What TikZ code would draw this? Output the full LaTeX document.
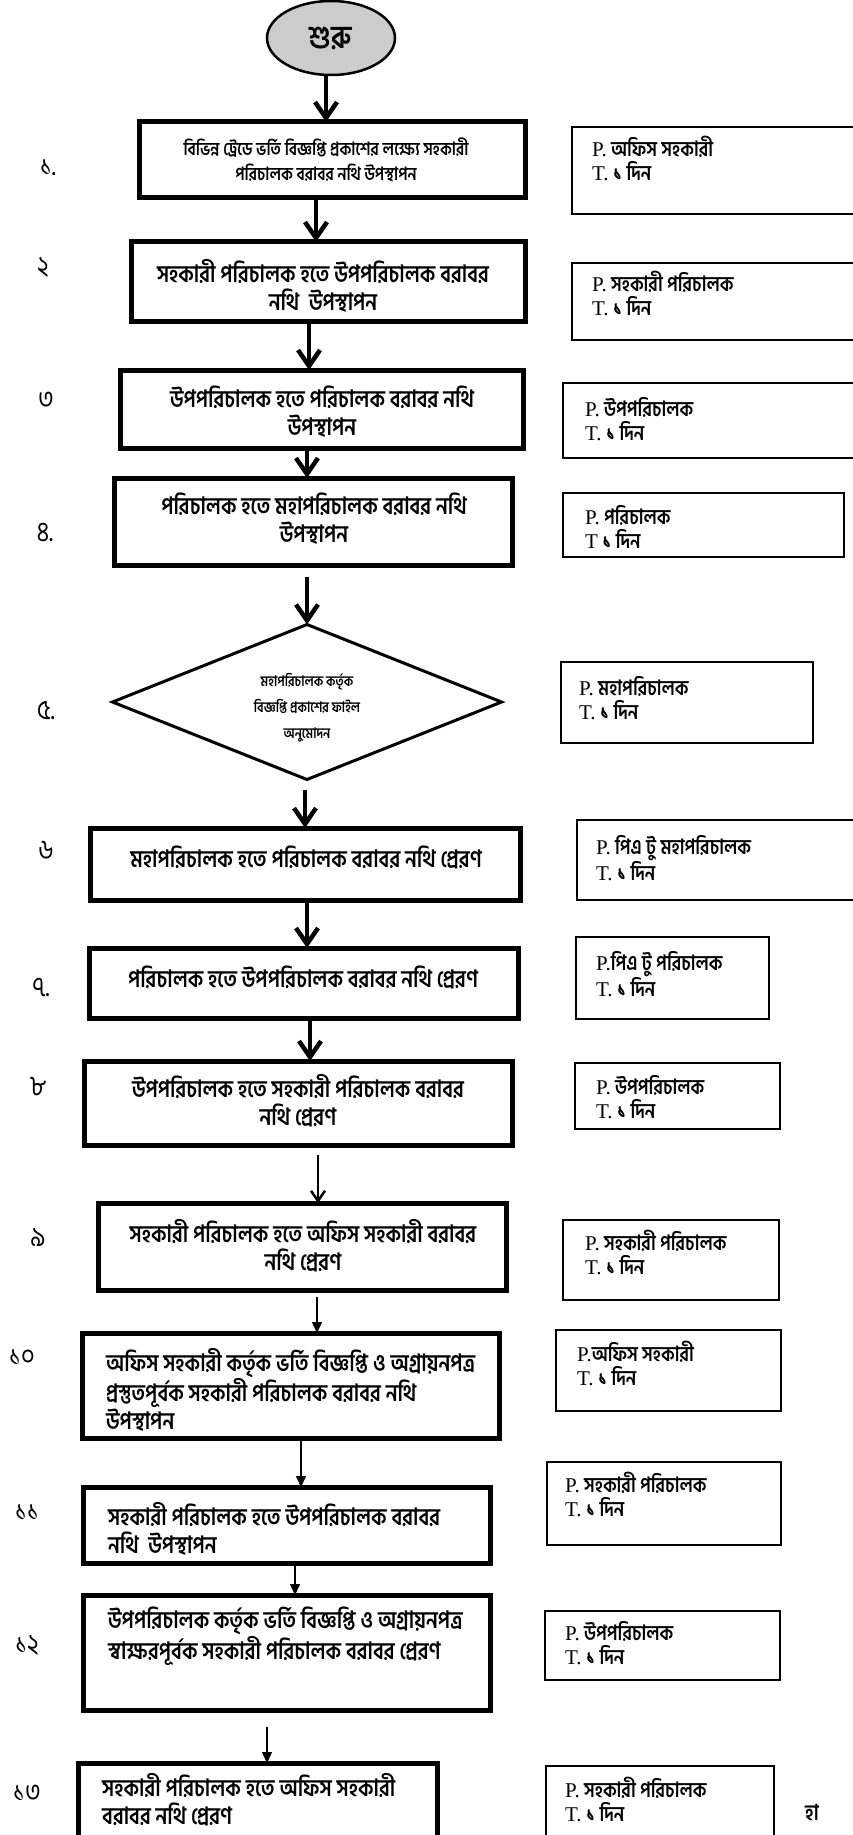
\documentclass[tikz,border=0pt]{standalone}
\usepackage{fontspec}
\usetikzlibrary{arrows.meta,shapes.geometric}
\newfontfamily\bn[Script=Bengali,FakeStretch=0.85]{Hind Siliguri}
\newfontfamily\ser{Liberation Serif}
\newcommand\pl[1]{{\mdseries\ser\fontsize{21}{24}\selectfont #1}}
% box macro: name, x1, x2, y1, y2, style
\newcommand\fbx[6]{\node[#6, minimum width={#3-#2}, minimum height={#5-#4}] (#1) at ({(#2+#3)/2},{(#4+#5)/2}) {};}
\tikzset{
 flowbox/.style={draw, line width=5pt, inner sep=0pt, outer sep=0pt},
 pbox/.style={draw, line width=1.6pt, inner sep=0pt, outer sep=0pt},
 btxt/.style={font=\bn\bfseries\fontsize{23.8}{28}\selectfont, align=center, inner sep=0pt},
 ltxt/.style={font=\bn\bfseries\fontsize{23.8}{28}\selectfont, align=left, anchor=west, inner sep=0pt},
 ptxt/.style={font=\bn\bfseries\fontsize{21}{24}\selectfont, align=left, anchor=west, inner sep=0pt},
 num/.style={font=\bn\fontsize{28}{28}\selectfont, inner sep=0pt},
 thickarr/.style={line width=3.2pt, -{Straight Barb[length=16pt,width=22pt,line width=4.5pt]}},
 medarr/.style={line width=2pt, -{Straight Barb[length=10pt,width=14pt,line width=2.5pt]}},
 thinarr/.style={line width=1.4pt, -{Triangle[length=11pt,width=10pt]}},
}
\begin{document}
\begin{tikzpicture}[x=1pt,y=-1pt]
\useasboundingbox (0,0) rectangle (853,1835);
\clip (0,0) rectangle (853,1835);
% start
\node[draw, ellipse, fill=gray!40, line width=2.5pt, minimum width=128pt, minimum height=74pt, inner sep=0pt, outer sep=0pt] (start) at (331,38) {\bn\bfseries\fontsize{32}{32}\selectfont শুরু};
% main boxes
\fbx{b1}{139}{525}{122}{198}{flowbox}
\fbx{b2}{131}{525}{242}{321}{flowbox}
\fbx{b3}{120}{523}{370}{448}{flowbox}
\fbx{b4}{114}{512}{478}{565}{flowbox}
\node[draw, diamond, line width=3pt, minimum width=389pt, minimum height=155pt, inner sep=0pt, outer sep=0pt] (d5) at (307,702) {};
\fbx{b6}{90}{520}{828}{900}{flowbox}
\fbx{b7}{89}{518}{948}{1018}{flowbox}
\fbx{b8}{84}{512}{1061}{1145}{flowbox}
\fbx{b9}{98}{506}{1203}{1290}{flowbox}
\fbx{b10}{82}{499}{1333}{1438}{flowbox}
\fbx{b11}{83}{490}{1487}{1563}{flowbox}
\fbx{b12}{83}{490}{1595}{1710}{flowbox}
\fbx{b13}{78}{437}{1763}{1850}{flowbox}
% box texts
\node[btxt, font=\bn\bfseries\fontsize{18.2}{25}\selectfont] (t1) at (326,160) {বিভিন্ন ট্রেডে ভর্তি বিজ্ঞপ্তি প্রকাশের লক্ষ্যে সহকারী\\পরিচালক বরাবর নথি উপস্থাপন};
\node[btxt] (t2) at (323,286) {সহকারী পরিচালক হতে উপপরিচালক বরাবর\\নথি\ \ উপস্থাপন};
\node[btxt] (t3) at (322,412) {উপপরিচালক হতে পরিচালক বরাবর নথি\\উপস্থাপন};
\node[btxt] (t4) at (314,519) {পরিচালক হতে মহাপরিচালক বরাবর নথি\\উপস্থাপন};
\node[btxt, font=\bn\bfseries\fontsize{14.5}{26}\selectfont] (t5) at (307,708) {মহাপরিচালক কর্তৃক\\বিজ্ঞপ্তি প্রকাশের ফাইল\\অনুমোদন};
\node[btxt] (t6) at (306,857) {মহাপরিচালক হতে পরিচালক বরাবর নথি প্রেরণ};
\node[btxt] (t7) at (303,977) {পরিচালক হতে উপপরিচালক বরাবর নথি প্রেরণ};
\node[btxt] (t8) at (298,1101) {উপপরিচালক হতে সহকারী পরিচালক বরাবর\\নথি প্রেরণ};
\node[btxt] (t9) at (303,1246) {সহকারী পরিচালক হতে অফিস সহকারী বরাবর\\নথি প্রেরণ};
\node[ltxt] (t10) at (106,1390) {অফিস সহকারী কর্তৃক ভর্তি বিজ্ঞপ্তি ও অগ্রায়নপত্র\\প্রস্তুতপূর্বক সহকারী পরিচালক বরাবর নথি\\উপস্থাপন};
\node[ltxt] (t11) at (108,1529) {সহকারী পরিচালক হতে উপপরিচালক বরাবর\\নথি\ \ উপস্থাপন};
\node[ltxt] (t12) at (108,1636) {উপপরিচালক কর্তৃক ভর্তি বিজ্ঞপ্তি ও অগ্রায়নপত্র\\স্বাক্ষরপূর্বক সহকারী পরিচালক বরাবর প্রেরণ};
\node[ltxt] (t13) at (102,1800) {সহকারী পরিচালক হতে অফিস সহকারী\\বরাবর নথি প্রেরণ};
% step numbers
\node[num] (n1) at (48,168) {১.};
\node[num] (n2) at (43,268) {২};
\node[num] (n3) at (46,400) {৩};
\node[num] (n4) at (45,533) {৪.};
\node[num] (n5) at (46,710) {৫.};
\node[num] (n6) at (46,850) {৬};
\node[num] (n7) at (41,988) {৭.};
\node[num] (n8) at (38,1087) {৮};
\node[num] (n9) at (38,1237) {৯};
\node[num] (n10) at (22,1357) {১০};
\node[num] (n11) at (27,1512) {১১};
\node[num] (n12) at (27,1645) {১২};
\node[num] (n13) at (27,1793) {১৩};
% responsibility boxes
\fbx{p1}{572}{870}{127}{214}{pbox}
\fbx{p2}{572}{870}{263}{340}{pbox}
\fbx{p3}{563}{870}{383}{458}{pbox}
\fbx{p4}{563}{844}{493}{557}{pbox}
\fbx{p5}{561}{813}{662}{743}{pbox}
\fbx{p6}{577}{870}{820}{900}{pbox}
\fbx{p7}{576}{769}{937}{1019}{pbox}
\fbx{p8}{575}{780}{1063}{1129}{pbox}
\fbx{p9}{563}{779}{1220}{1300}{pbox}
\fbx{p10}{556}{781}{1330}{1411}{pbox}
\fbx{p11}{547}{781}{1462}{1545}{pbox}
\fbx{p12}{545}{780}{1611}{1680}{pbox}
\fbx{p13}{546}{774}{1766}{1850}{pbox}
\node[ptxt] (q1) at (592,158) {\pl{P.} অফিস সহকারী\\\pl{T.} ১ দিন};
\node[ptxt] (q2) at (592,293) {\pl{P.} সহকারী পরিচালক\\\pl{T.} ১ দিন};
\node[ptxt] (q3) at (585,419) {\pl{P.} উপপরিচালক\\\pl{T.} ১ দিন};
\node[ptxt] (q4) at (585,527) {\pl{P.} পরিচালক\\\pl{T} ১ দিন};
\node[ptxt] (q5) at (579,698) {\pl{P.} মহাপরিচালক\\\pl{T.} ১ দিন};
\node[ptxt] (q6) at (596,858) {\pl{P.} পিএ টু মহাপরিচালক\\\pl{T.} ১ দিন};
\node[ptxt] (q7) at (596,974) {\pl{P.}পিএ টু পরিচালক\\\pl{T.} ১ দিন};
\node[ptxt] (q8) at (596,1097) {\pl{P.} উপপরিচালক\\\pl{T.} ১ দিন};
\node[ptxt] (q9) at (585,1252) {\pl{P.} সহকারী পরিচালক\\\pl{T.} ১ দিন};
\node[ptxt] (q10) at (577,1363) {\pl{P.}অফিস সহকারী\\\pl{T.} ১ দিন};
\node[ptxt] (q11) at (565,1494) {\pl{P.} সহকারী পরিচালক\\\pl{T.} ১ দিন};
\node[ptxt] (q12) at (565,1643) {\pl{P.} উপপরিচালক\\\pl{T.} ১ দিন};
\node[ptxt] (q13) at (565,1799) {\pl{P.} সহকারী পরিচালক\\\pl{T.} ১ দিন};
\node[font=\bn\bfseries\fontsize{22}{22}\selectfont, anchor=west, inner sep=0pt] (sig) at (805,1812) {হা};
% connectors
\coordinate (x0) at (326,0);
\coordinate (x1) at (316,0);
\coordinate (x2) at (309,0);
\coordinate (x3) at (307,0);
\coordinate (a4s) at (307,577);
\coordinate (a5s) at (305,790);
\coordinate (x6) at (307,0);
\coordinate (x7) at (310,0);
\coordinate (a8s) at (318,1155);
\coordinate (a9s) at (317,1297);
\coordinate (x10) at (301,0);
\coordinate (x11) at (295,0);
\coordinate (a12s) at (267,1727);
\draw[thickarr] (start.south -| x0) -- (b1.north -| x0);
\draw[thickarr] (b1.south -| x1) -- (b2.north -| x1);
\draw[thickarr] (b2.south -| x2) -- (b3.north -| x2);
\draw[thickarr] (b3.south -| x3) -- (b4.north -| x3);
\draw[thickarr] (a4s) -- (d5.north);
\draw[thickarr] (a5s) -- (b6.north -| a5s);
\draw[thickarr] (b6.south -| x6) -- (b7.north -| x6);
\draw[thickarr] (b7.south -| x7) -- (b8.north -| x7);
\draw[medarr] (a8s) -- (b9.north -| a8s);
\draw[thinarr] (a9s) -- (b10.north -| a9s);
\draw[thinarr] (b10.south -| x10) -- (b11.north -| x10);
\draw[thinarr] (b11.south -| x11) -- (b12.north -| x11);
\draw[thinarr] (a12s) -- (b13.north -| a12s);
\end{tikzpicture}
\end{document}
